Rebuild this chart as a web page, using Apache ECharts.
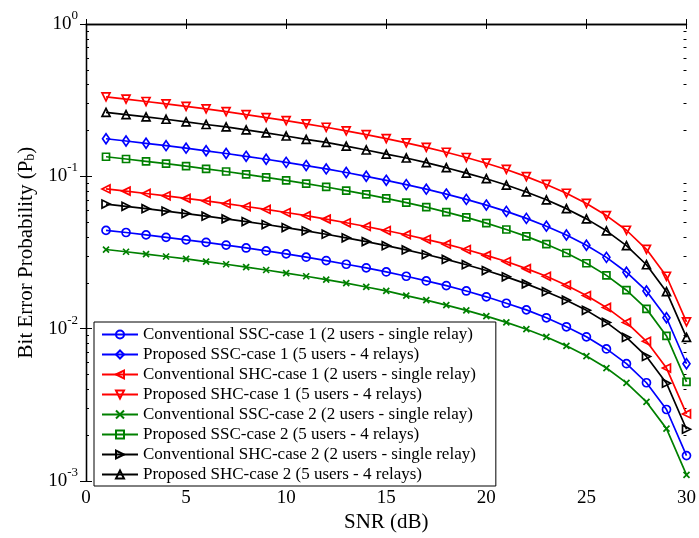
<!DOCTYPE html>
<html>
<head>
<meta charset="utf-8">
<script src="https://cdn.jsdelivr.net/npm/echarts@6/dist/echarts.min.js"></script>
<style>
html, body { margin: 0; padding: 0; background: #fff; }
#chart { width: 699px; height: 538px; }
</style>
</head>
<body>
<div id="chart"></div>
<script>
// SNR (dB) on the x axis
var snr = [1, 2, 3, 4, 5, 6, 7, 8, 9, 10, 11, 12, 13, 14, 15, 16, 17, 18, 19, 20, 21, 22, 23, 24, 25, 26, 27, 28, 29, 30];

// bit error probability
var convSsc1 = [0.0442, 0.0428, 0.0413, 0.0398, 0.0383, 0.0369, 0.0354, 0.0339, 0.0324, 0.0310, 0.0295, 0.0280, 0.0265, 0.0251, 0.0236, 0.0221, 0.0206, 0.0192, 0.0177, 0.0162, 0.0147, 0.0133, 0.0118, 0.0103, 0.00885, 0.00737, 0.00590, 0.00442, 0.00295, 0.00147];
var propSsc1 = [0.1766, 0.1707, 0.1648, 0.1590, 0.1531, 0.1472, 0.1413, 0.1354, 0.1295, 0.1236, 0.1177, 0.1119, 0.1060, 0.1001, 0.0942, 0.0883, 0.0824, 0.0765, 0.0706, 0.0648, 0.0589, 0.0530, 0.0471, 0.0412, 0.0353, 0.0294, 0.0235, 0.0177, 0.0118, 0.00589];
var convShc1 = [0.0827, 0.0800, 0.0772, 0.0745, 0.0717, 0.0690, 0.0662, 0.0634, 0.0607, 0.0579, 0.0552, 0.0524, 0.0496, 0.0469, 0.0441, 0.0414, 0.0386, 0.0359, 0.0331, 0.0303, 0.0276, 0.0248, 0.0221, 0.0193, 0.0165, 0.0138, 0.0110, 0.00827, 0.00552, 0.00276];
var propShc1 = [0.332, 0.321, 0.310, 0.299, 0.288, 0.277, 0.266, 0.254, 0.243, 0.232, 0.221, 0.210, 0.199, 0.188, 0.177, 0.166, 0.155, 0.144, 0.133, 0.122, 0.111, 0.0996, 0.0885, 0.0775, 0.0664, 0.0553, 0.0443, 0.0332, 0.0221, 0.0111];
var convSsc2 = [0.0331, 0.0320, 0.0309, 0.0298, 0.0287, 0.0276, 0.0265, 0.0254, 0.0243, 0.0232, 0.0221, 0.0210, 0.0199, 0.0188, 0.0177, 0.0165, 0.0154, 0.0143, 0.0132, 0.0121, 0.0110, 0.00993, 0.00883, 0.00772, 0.00662, 0.00552, 0.00441, 0.00331, 0.00221, 0.00110];
var propSsc2 = [0.1345, 0.1300, 0.1255, 0.1211, 0.1166, 0.1121, 0.1076, 0.1031, 0.0986, 0.0942, 0.0897, 0.0852, 0.0807, 0.0762, 0.0717, 0.0673, 0.0628, 0.0583, 0.0538, 0.0493, 0.0448, 0.0404, 0.0359, 0.0314, 0.0269, 0.0224, 0.0179, 0.0135, 0.00897, 0.00448];
var convShc2 = [0.0658, 0.0636, 0.0614, 0.0592, 0.0570, 0.0548, 0.0526, 0.0505, 0.0483, 0.0461, 0.0439, 0.0417, 0.0395, 0.0373, 0.0351, 0.0329, 0.0307, 0.0285, 0.0263, 0.0241, 0.0219, 0.0197, 0.0175, 0.0154, 0.0132, 0.0110, 0.00877, 0.00658, 0.00439, 0.00219];
var propShc2 = [0.263, 0.254, 0.246, 0.237, 0.228, 0.219, 0.211, 0.202, 0.193, 0.184, 0.175, 0.167, 0.158, 0.149, 0.140, 0.132, 0.123, 0.114, 0.105, 0.0965, 0.0877, 0.0790, 0.0702, 0.0614, 0.0526, 0.0439, 0.0351, 0.0263, 0.0175, 0.00877];

var seriesNames = [
    'Conventional SSC-case 1 (2 users - single relay)',
    'Proposed SSC-case 1 (5 users - 4 relays)',
    'Conventional SHC-case 1 (2 users - single relay)',
    'Proposed SHC-case 1 (5 users - 4 relays)',
    'Conventional SSC-case 2 (2 users - single relay)',
    'Proposed SSC-case 2 (5 users - 4 relays)',
    'Conventional SHC-case 2 (2 users - single relay)',
    'Proposed SHC-case 2 (5 users - 4 relays)'
];

// minor ticks of the log axis (2..9 in each decade)
var yMinorTicks = [0.002, 0.003, 0.004, 0.005, 0.006, 0.007, 0.008, 0.009,
                   0.02, 0.03, 0.04, 0.05, 0.06, 0.07, 0.08, 0.09,
                   0.2, 0.3, 0.4, 0.5, 0.6, 0.7, 0.8, 0.9];

var serif = 'Liberation Serif';
var myChart = echarts.init(document.getElementById('chart'));

function pairs(vals) {
    return snr.map(function (x, i) { return [x, vals[i]]; });
}

function makeSeries(name, vals, color, symbol, rotate, size) {
    return {
        name: name,
        type: 'line',
        data: pairs(vals),
        symbol: symbol,
        symbolSize: size,
        symbolRotate: rotate,
        showSymbol: true,
        lineStyle: { color: color, width: 1.7 },
        itemStyle: { color: 'rgba(255,255,255,0)', borderColor: color, borderWidth: 1.7 },
        emphasis: { disabled: true },
        z: 3
    };
}

var crossPath = 'path://M0,0L10,10M10,0L0,10';

var minorTickAxis = function (pos) {
    return {
        type: 'value', position: pos, min: -3, max: 0,
        axisLine: { show: false },
        axisLabel: { show: false },
        splitLine: { show: false },
        axisTick: {
            show: true, inside: true, length: 3,
            lineStyle: { color: '#000', width: 1 },
            customValues: yMinorTicks.map(function (v) { return Math.log10(v); })
        }
    };
};

myChart.setOption({
    animation: false,
    backgroundColor: '#fff',
    grid: { left: 86, right: 10, top: 24, bottom: 48 },
    legend: {
        orient: 'vertical',
        left: 94,
        top: 322,
        data: seriesNames,
        itemWidth: 36,
        itemHeight: 10,
        itemGap: 3,
        padding: [4, 20, 3, 7],
        backgroundColor: '#fff',
        borderColor: '#000',
        borderWidth: 1,
        textStyle: { fontFamily: serif, fontSize: 17, color: '#000', lineHeight: 17 },
        z: 10
    },
    xAxis: [
        {
            type: 'value', position: 'bottom', min: 0, max: 30, interval: 5,
            name: 'SNR (dB)', nameLocation: 'middle', nameGap: 20,
            nameTextStyle: { fontFamily: serif, fontSize: 21, color: '#000' },
            axisLine: { lineStyle: { color: '#000', width: 1.3 } },
            axisTick: { inside: true, length: 5, lineStyle: { color: '#000' } },
            axisLabel: { fontFamily: serif, fontSize: 19, color: '#000', margin: 7 },
            splitLine: { show: false }
        },
        {
            type: 'value', position: 'top', min: 0, max: 30, interval: 5,
            axisLine: { lineStyle: { color: '#000', width: 1.3 } },
            axisTick: { inside: true, length: 5, lineStyle: { color: '#000' } },
            axisLabel: { show: false },
            splitLine: { show: false }
        }
    ],
    yAxis: [
        {
            type: 'log', logBase: 10, position: 'left', min: 0.001, max: 1,
            name: 'Bit Error Probability (P{sub|b})', nameLocation: 'middle', nameGap: 49,
            nameTextStyle: {
                fontFamily: serif, fontSize: 21, color: '#000',
                rich: { sub: { fontFamily: serif, fontSize: 14, color: '#000', verticalAlign: 'bottom', lineHeight: 6 } }
            },
            axisLine: { lineStyle: { color: '#000', width: 1.3 } },
            axisTick: { inside: true, length: 6, lineStyle: { color: '#000' } },
            axisLabel: {
                margin: 8,
                formatter: function (v) { return '{b|10}{s|' + Math.round(Math.log10(v)) + '}'; },
                rich: {
                    b: { fontFamily: serif, fontSize: 19, color: '#000', lineHeight: 30 },
                    s: { fontFamily: serif, fontSize: 13, color: '#000', lineHeight: 14, verticalAlign: 'top' }
                }
            },
            splitLine: { show: false }
        },
        {
            type: 'log', logBase: 10, position: 'right', min: 0.001, max: 1,
            axisLine: { lineStyle: { color: '#000', width: 1.3 } },
            axisTick: { inside: true, length: 6, lineStyle: { color: '#000' } },
            axisLabel: { show: false },
            splitLine: { show: false }
        },
        minorTickAxis('left'),
        minorTickAxis('right')
    ],
    series: [
        makeSeries(seriesNames[0], convSsc1, '#0000ff', 'circle', 0, 8),
        makeSeries(seriesNames[1], propSsc1, '#0000ff', 'diamond', 0, [7, 10]),
        makeSeries(seriesNames[2], convShc1, '#ff0000', 'triangle', 90, 8),
        makeSeries(seriesNames[3], propShc1, '#ff0000', 'triangle', 180, 8),
        makeSeries(seriesNames[4], convSsc2, '#008000', crossPath, 0, 6),
        makeSeries(seriesNames[5], propSsc2, '#008000', 'rect', 0, 7),
        makeSeries(seriesNames[6], convShc2, '#000000', 'triangle', -90, 8),
        makeSeries(seriesNames[7], propShc2, '#000000', 'triangle', 0, 8)
    ]
});
</script>
</body>
</html>
